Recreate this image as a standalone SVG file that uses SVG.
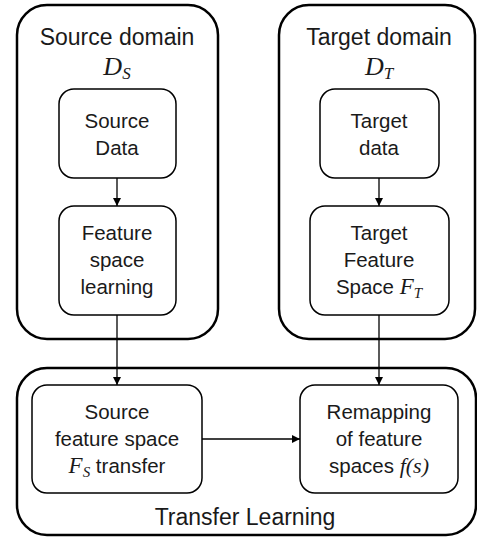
<svg xmlns="http://www.w3.org/2000/svg" width="477" height="537" viewBox="0 0 477 537">
<defs>
<style>
.outer{fill:none;stroke:#000;stroke-width:2.5}
.inner{fill:#fff;stroke:#000;stroke-width:1.5}
.t{font-family:"Liberation Sans",Arial,sans-serif;font-size:20.5px;fill:#1a1a1a;text-anchor:middle}
.h{font-family:"Liberation Sans",Arial,sans-serif;font-size:23px;fill:#1a1a1a;text-anchor:middle}
.d{font-family:"Liberation Serif","Times New Roman",serif;font-style:italic;font-size:26px;fill:#1a1a1a;text-anchor:middle}
.m{font-family:"Liberation Serif","Times New Roman",serif;font-style:italic}
.c{fill:none;stroke:#000;stroke-width:1.3}
</style>
<marker id="ah" viewBox="0 0 10 10" refX="10" refY="5" markerWidth="8" markerHeight="8" markerUnits="userSpaceOnUse" orient="auto">
<path d="M0,0 L10,5 L0,10 z" fill="#000"/>
</marker>
</defs>
<rect width="477" height="537" fill="#fff"/>
<g id="source-domain">
<rect class="outer" x="17" y="5" width="201" height="334" rx="30"/>
<text class="h" x="117" y="45">Source domain</text>
<text class="d" x="117" y="75">D<tspan font-size="17" dy="4">S</tspan></text>
</g>
<g id="target-domain">
<rect class="outer" x="279" y="5" width="196" height="334" rx="30"/>
<text class="h" x="379" y="45">Target domain</text>
<text class="d" x="379" y="75">D<tspan font-size="17" dy="4">T</tspan></text>
</g>
<g id="transfer-learning">
<rect class="outer" x="17" y="368" width="459" height="167" rx="30"/>
<text class="h" x="245" y="525">Transfer Learning</text>
</g>
<g id="source-data">
<rect class="inner" x="59" y="89" width="117" height="89" rx="15"/>
<text class="t" x="117" y="128">Source</text>
<text class="t" x="117" y="155">Data</text>
</g>
<g id="feature-space-learning">
<rect class="inner" x="59" y="206" width="117" height="109" rx="15"/>
<text class="t" x="117" y="240">Feature</text>
<text class="t" x="117" y="267">space</text>
<text class="t" x="117" y="294">learning</text>
</g>
<g id="target-data">
<rect class="inner" x="320" y="89" width="119" height="89" rx="15"/>
<text class="t" x="379" y="128">Target</text>
<text class="t" x="379" y="155">data</text>
</g>
<g id="target-feature-space">
<rect class="inner" x="310" y="206" width="139" height="109" rx="15"/>
<text class="t" x="379" y="240">Target</text>
<text class="t" x="379" y="267">Feature</text>
<text class="t" x="379" y="294">Space <tspan class="m" font-size="23">F</tspan><tspan class="m" font-size="15" dy="4">T</tspan></text>
</g>
<g id="source-feature-transfer">
<rect class="inner" x="32" y="385" width="170" height="108" rx="15"/>
<text class="t" x="117" y="419">Source</text>
<text class="t" x="117" y="446">feature space</text>
<text class="t" x="117" y="473"><tspan class="m" font-size="23">F</tspan><tspan class="m" font-size="15" dy="4">S</tspan><tspan dy="-4"> transfer</tspan></text>
</g>
<g id="remapping">
<rect class="inner" x="300" y="385" width="158" height="108" rx="15"/>
<text class="t" x="379" y="419">Remapping</text>
<text class="t" x="379" y="446">of feature</text>
<text class="t" x="379" y="473">spaces <tspan class="m" font-size="22">f(s)</tspan></text>
</g>
<g id="connectors">
<line class="c" x1="117" y1="178" x2="117" y2="206" marker-end="url(#ah)"/>
<line class="c" x1="379" y1="178" x2="379" y2="206" marker-end="url(#ah)"/>
<line class="c" x1="117" y1="315" x2="117" y2="385" marker-end="url(#ah)"/>
<line class="c" x1="379" y1="315" x2="379" y2="385" marker-end="url(#ah)"/>
<line class="c" x1="202" y1="439" x2="300" y2="439" marker-end="url(#ah)"/>
</g>
</svg>
